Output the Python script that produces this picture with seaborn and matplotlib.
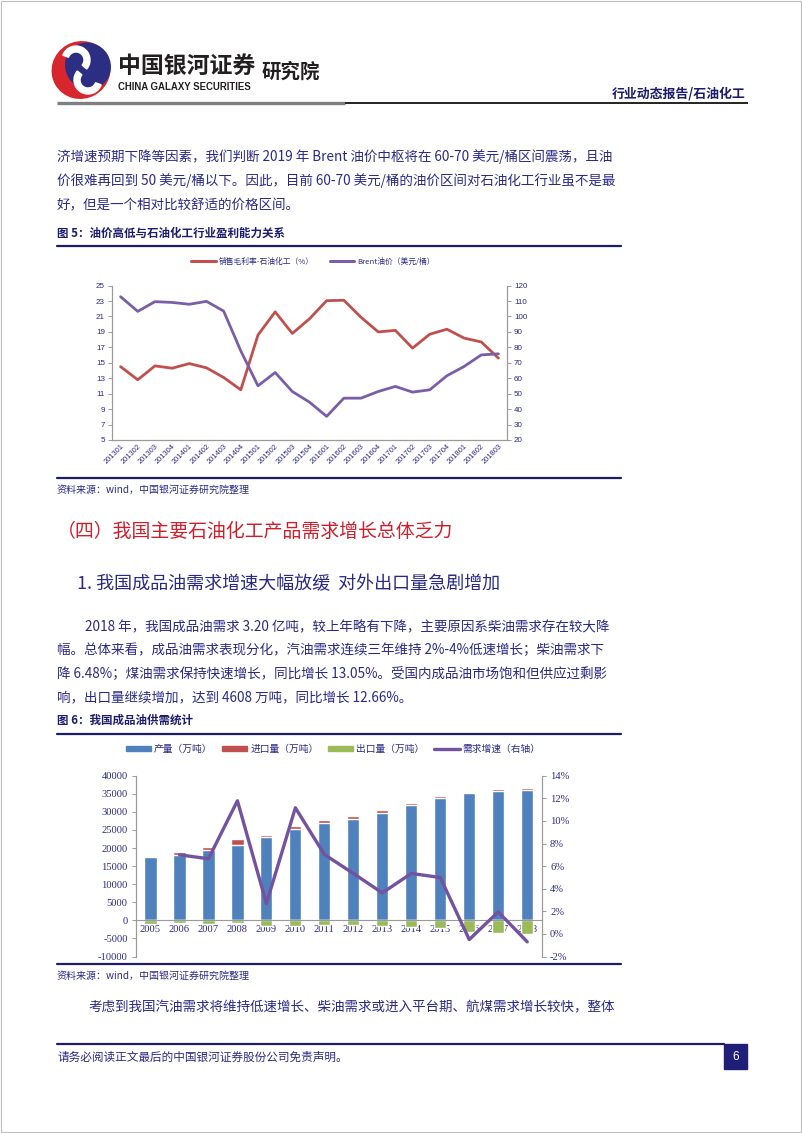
import numpy as np
import pandas as pd
import matplotlib
matplotlib.use("Agg")
import matplotlib.pyplot as plt
from matplotlib.patches import Rectangle, Ellipse, Wedge
from matplotlib.lines import Line2D
import seaborn as sns

sns.set_theme(style="white")
plt.rcParams['font.family'] = ['Noto Sans CJK SC', 'DejaVu Sans']

# ---------------- data: figure 5 ----------------
quarters = ['201301', '201302', '201303', '201304', '201401', '201402', '201403', '201404',
            '201501', '201502', '201503', '201504', '201601', '201602', '201603', '201604',
            '201701', '201702', '201703', '201704', '201801', '201802', '201803']
margin = [14.5, 12.8, 14.6, 14.3, 14.9, 14.35, 13.1, 11.5, 18.6, 21.6, 18.8, 20.7,
          23.05, 23.1, 20.9, 19.0, 19.2, 16.9, 18.7, 19.35, 18.2, 17.7, 15.6]
brent = [112.8, 103.3, 109.6, 109.1, 107.9, 109.8, 103.5, 77.7, 55.1, 63.7, 51.4, 44.5,
         35.3, 47.1, 47.1, 51.4, 54.7, 51.0, 52.5, 61.6, 67.6, 75.1, 75.8]
left_ticks1 = [5, 7, 9, 11, 13, 15, 17, 19, 21, 23, 25]
right_ticks1 = [20, 30, 40, 50, 60, 70, 80, 90, 100, 110, 120]
label_margin = '销售毛利率-石油化工（%）'
label_brent = 'Brent油价（美元/桶）'

# ---------------- data: figure 6 ----------------
years = ['2005', '2006', '2007', '2008', '2009', '2010', '2011', '2012', '2013', '2014',
         '2015', '2016', '2017', '2018']
production = [17420, 18160, 19450, 20920, 22950, 25160, 26910, 28110, 29680, 31800,
              33920, 35120, 35760, 36040]
imports = [370, 640, 730, 1480, 640, 920, 740, 740, 740, 550, 370, 370, 550, 460]
exports = [-920, -650, -920, -650, -1480, -1480, -1200, -1200, -1570, -1750,
           -2200, -3300, -3500, -3700]
growth = [np.nan, 7.0, 6.65, 11.78, 2.69, 11.16, 7.03, 5.35, 3.63, 5.35, 4.99, -0.5, 1.95, -0.7]
left_ticks2 = [-10000, -5000, 0, 5000, 10000, 15000, 20000, 25000, 30000, 35000, 40000]
right_ticks2 = [-2, 0, 2, 4, 6, 8, 10, 12, 14]
leg2 = ['产量（万吨）', '进口量（万吨）', '出口量（万吨）', '需求增速（右轴）']

# ---------------- colours ----------------
NAVY = '#2a2a86'
RULE = '#1c1c6b'
RED1 = '#c0504d'
PURP1 = '#7b5ea7'
BLUE = '#4f81bd'
GREEN = '#9bbb59'
PURP2 = '#7452a0'
GRID = '#9a9a9a'

W, H = 802, 1133
fig = plt.figure(figsize=(W / 100, H / 100), dpi=100)
fig.patch.set_facecolor('white')

page = fig.add_axes([0, 0, 1, 1])
page.set_xlim(0, W)
page.set_ylim(H, 0)
page.axis('off')


def rect_axes(x0, y0, x1, y1):
    return fig.add_axes([x0 / W, 1 - y1 / H, (x1 - x0) / W, (y1 - y0) / H])


# page border
page.add_patch(Rectangle((0.5, 0.5), W - 1.5, H - 1.5, fill=False, ec='#bdbdbd', lw=0.8))

# ---------- header ----------
page.add_patch(Ellipse((81, 70), 58, 56, angle=-30, color='#d7262d', zorder=2))
page.add_patch(Ellipse((88, 66), 44, 46, angle=-30, color='#2b2e83', zorder=3))
page.add_patch(Wedge((76, 60), 14, 200, 40, width=6, color='white', zorder=4))
page.add_patch(Wedge((88, 80), 14, 20, 220, width=6, color='white', zorder=4))
page.text(118, 66, '中国银河证券', fontsize=16.5, fontweight='bold', color='#231f20', va='center')
page.text(262, 72, '研究院', fontsize=14, fontweight='bold', color='#231f20', va='center')
page.text(118, 87, 'CHINA GALAXY SECURITIES', fontsize=6.9, fontweight='bold', color='#231f20',
          va='center', family='Liberation Sans', fontstretch='condensed')
page.text(746, 94, '行业动态报告/石油化工', fontsize=9.3, fontweight='bold', color=RULE,
          ha='right', va='center')
page.plot([57, 345], [103, 103], color='#7f7f7f', lw=2.4, solid_capstyle='butt')
page.plot([345, 748], [103, 103], color='#111111', lw=1.3, solid_capstyle='butt')

# ---------- body text ----------
body_fs = 9.75
para1 = ['济增速预期下降等因素，我们判断 2019 年 Brent 油价中枢将在 60-70 美元/桶区间震荡，且油',
         '价很难再回到 50 美元/桶以下。因此，目前 60-70 美元/桶的油价区间对石油化工行业虽不是最',
         '好，但是一个相对比较舒适的价格区间。']
for i, line in enumerate(para1):
    page.text(57, 157 + i * 24, line, fontsize=body_fs, color=NAVY, va='center')

page.text(57, 233, '图 5：油价高低与石油化工行业盈利能力关系', fontsize=8.3, fontweight='bold',
          color=RULE, va='center')
page.plot([57, 621], [246, 246], color=RULE, lw=1.6)
page.plot([57, 621], [478, 478], color=RULE, lw=1.6)
page.text(57, 490, '资料来源：wind，中国银河证券研究院整理', fontsize=7.2, color=NAVY,
          va='center', style='italic')

page.text(57, 531, '（四）我国主要石油化工产品需求增长总体乏力', fontsize=13.6, color='#cc1f2b',
          va='center')
page.text(77, 584, '1. 我国成品油需求增速大幅放缓  对外出口量急剧增加', fontsize=13, color=NAVY,
          va='center')
para2 = ['2018 年，我国成品油需求 3.20 亿吨，较上年略有下降，主要原因系柴油需求存在较大降',
         '幅。总体来看，成品油需求表现分化，汽油需求连续三年维持 2%-4%低速增长；柴油需求下',
         '降 6.48%；煤油需求保持快速增长，同比增长 13.05%。受国内成品油市场饱和但供应过剩影',
         '响，出口量继续增加，达到 4608 万吨，同比增长 12.66%。']
for i, line in enumerate(para2):
    page.text(85 if i == 0 else 57, 627 + i * 23.5, line, fontsize=body_fs, color=NAVY, va='center')

page.text(57, 720, '图 6：我国成品油供需统计', fontsize=8.3, fontweight='bold', color=RULE, va='center')
page.plot([57, 621], [734, 734], color=RULE, lw=1.6)
page.plot([57, 621], [964, 964], color=RULE, lw=1.6)
page.text(57, 976, '资料来源：wind，中国银河证券研究院整理', fontsize=7.2, color=NAVY,
          va='center', style='italic')
page.text(88, 1007, '考虑到我国汽油需求将维持低速增长、柴油需求或进入平台期、航煤需求增长较快，整体',
          fontsize=body_fs, color=NAVY, va='center')

# footer
page.plot([57, 724], [1044, 1044], color=RULE, lw=1.6)
page.text(57, 1057, '请务必阅读正文最后的中国银河证券股份公司免责声明。', fontsize=8.4, color=NAVY,
          va='center')
page.add_patch(Rectangle((724, 1044), 23, 25, color='#1f1f7a'))
page.text(735.5, 1056.5, '6', fontsize=8.5, color='white', ha='center', va='center',
          family='Liberation Sans')

# ---------- chart 1 ----------
ax1 = rect_axes(112, 285.6, 507, 440)
ax1.set_facecolor('none')
x1 = np.arange(len(quarters))
df1 = pd.DataFrame({'x': x1, 'margin': margin, 'brent': brent})
sns.lineplot(data=df1, x='x', y='margin', ax=ax1, color=RED1, lw=2.0, sort=False)
ax1b = ax1.twinx()
sns.lineplot(data=df1, x='x', y='brent', ax=ax1b, color=PURP1, lw=2.0, sort=False)
ax1.set_xlim(-0.5, len(quarters) - 0.5)
ax1.set_ylim(5, 25)
ax1b.set_ylim(20, 120)
ax1.set_yticks(left_ticks1)
ax1b.set_yticks(right_ticks1)
ax1.set_xticks(x1)
ax1.set_xticklabels(quarters, rotation=45, ha='right', rotation_mode='anchor')
ax1.set_xticks(np.arange(-0.5, len(quarters)), minor=True)
for a in (ax1, ax1b):
    a.set_xlabel('')
    a.set_ylabel('')
    for s in a.spines.values():
        s.set_color(GRID)
        s.set_linewidth(0.8)
    a.spines['top'].set_visible(False)
ax1.tick_params(axis='x', which='major', length=0, labelsize=5.4, labelcolor=NAVY, pad=2)
ax1.tick_params(axis='x', which='minor', length=3, color=GRID, width=0.7, direction='out')
ax1.tick_params(axis='y', length=3, color=GRID, width=0.7, labelsize=5.8, labelcolor=NAVY, left=True,
                direction='out', pad=2)
ax1b.tick_params(axis='y', length=3, color=GRID, width=0.7, labelsize=5.8, labelcolor=NAVY, right=True,
                 direction='out', pad=2)
for lab in ax1.get_xticklabels() + ax1.get_yticklabels() + ax1b.get_yticklabels():
    lab.set_family('Liberation Sans')
ax1.grid(False)
ax1b.grid(False)
h1 = [Line2D([], [], color=RED1, lw=2.2), Line2D([], [], color=PURP1, lw=2.2)]
fig.legend(h1, [label_margin, label_brent], loc='center', bbox_to_anchor=(313 / W, 1 - 262 / H),
           ncol=2, frameon=False, fontsize=5.6, handlelength=3.2, columnspacing=2.0,
           handletextpad=0.4, labelcolor=NAVY)

# ---------- chart 2 ----------
ax2 = rect_axes(136, 775.7, 541.7, 956.5)
ax2.set_facecolor('none')
total = [p + i for p, i in zip(production, imports)]
df2 = pd.DataFrame({'year': years, 'total': total, 'production': production, 'exports': exports})
sns.barplot(data=df2, x='year', y='total', color=RED1, saturation=1, width=0.42, ax=ax2)
sns.barplot(data=df2, x='year', y='production', color=BLUE, saturation=1, width=0.42, ax=ax2)
sns.barplot(data=df2, x='year', y='exports', color=GREEN, saturation=1, width=0.42, ax=ax2)
ax2b = ax2.twinx()
dfg = pd.DataFrame({'x': np.arange(len(years)), 'g': growth}).dropna()
sns.lineplot(data=dfg, x='x', y='g', ax=ax2b, color=PURP2, lw=2.4, sort=False)
ax2.set_xlim(-0.5, len(years) - 0.5)
ax2.set_ylim(-10000, 40000)
ax2b.set_ylim(-2, 14)
ax2.set_yticks(left_ticks2)
ax2.set_yticklabels([str(v) for v in left_ticks2])
ax2b.set_yticks(right_ticks2)
ax2b.set_yticklabels([f'{v}%' for v in right_ticks2])
ax2.set_xticks(np.arange(len(years)))
ax2.set_xticklabels(years)
ax2.set_xticks(np.arange(-0.5, len(years)), minor=True)
for a in (ax2, ax2b):
    a.set_xlabel('')
    a.set_ylabel('')
    a.grid(False)
    for s in a.spines.values():
        s.set_color(GRID)
        s.set_linewidth(0.8)
    a.spines['top'].set_visible(False)
ax2.spines['bottom'].set_position(('data', 0))
ax2b.spines['bottom'].set_visible(False)
ax2.tick_params(axis='x', which='major', length=0, labelsize=7.6, labelcolor=NAVY, pad=3)
ax2.tick_params(axis='x', which='minor', length=2.5, color=GRID, width=0.7, direction='out')
ax2.tick_params(axis='y', length=3, color=GRID, width=0.7, labelsize=7.6, labelcolor=NAVY, left=True,
                direction='out', pad=3)
ax2b.tick_params(axis='y', length=3, color=GRID, width=0.7, labelsize=7.6, labelcolor=NAVY, right=True,
                 direction='out', pad=3)
for lab in ax2.get_xticklabels() + ax2.get_yticklabels() + ax2b.get_yticklabels():
    lab.set_family('Liberation Serif')
h2 = [Rectangle((0, 0), 1, 1, color=BLUE), Rectangle((0, 0), 1, 1, color=RED1),
      Rectangle((0, 0), 1, 1, color=GREEN), Line2D([], [], color=PURP2, lw=2.4)]
fig.legend(h2, leg2, loc='center', bbox_to_anchor=(333 / W, 1 - 749 / H), ncol=4, frameon=False,
           fontsize=7, handlelength=2.6, handleheight=0.55, columnspacing=1.0, handletextpad=0.3,
           labelcolor=NAVY)

fig.savefig('out.png', dpi=100, facecolor='white')
